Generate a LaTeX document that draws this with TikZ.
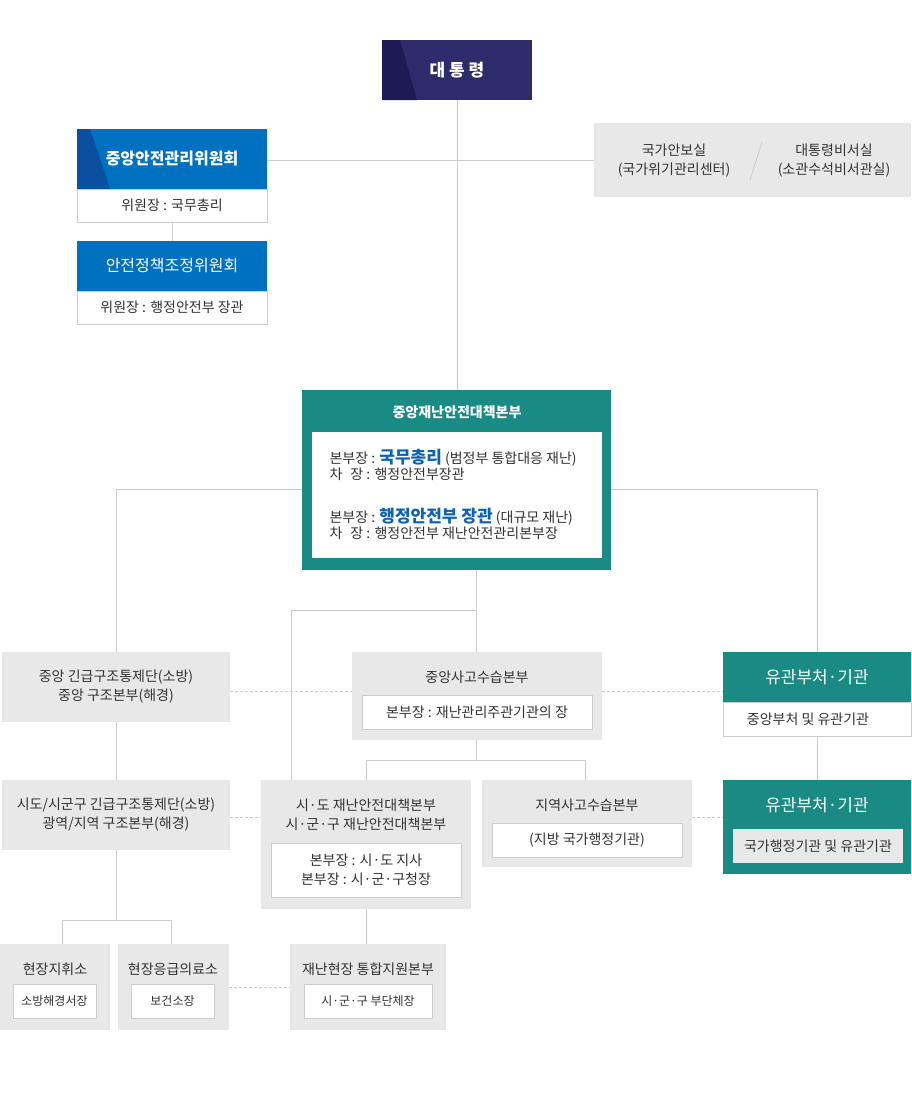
\documentclass[tikz,border=0pt]{standalone}
\usepackage{fontspec}
\setmainfont{Noto Sans CJK KR}
\usetikzlibrary{calc}
\definecolor{navy}{HTML}{2E2B6B}
\definecolor{navyd}{HTML}{1E1A55}
\definecolor{blu}{HTML}{0070C0}
\definecolor{blud}{HTML}{0A4FA0}
\definecolor{teal}{HTML}{1A8A85}
\definecolor{gry}{HTML}{E8E8E8}
\definecolor{lin}{HTML}{CCCCCC}
\definecolor{txt}{HTML}{333333}
\definecolor{hl}{HTML}{0A63B8}
\tikzset{
 box/.style={fill=gry,draw=none},
 wbox/.style={fill=white,draw=lin,line width=0.8pt},
 conn/.style={draw=lin,line width=0.8pt},
 dconn/.style={draw=lin,line width=0.8pt,dashed,dash pattern=on 3pt off 2pt},
 t/.style={font=\fontsize{14}{19}\selectfont,text=txt,align=center},
 tw/.style={font=\fontsize{17}{21}\selectfont,text=white,align=center},
}
\begin{document}
\begin{tikzpicture}[x=1pt,y=-1pt]
\useasboundingbox (0,0) rectangle (911,1100);
% president
\fill[navy] (382,40) rectangle (532,100);
\fill[navyd] (382,40) -- (400,40) -- (417,100) -- (382,100) -- cycle;
\node[tw,font=\bfseries\fontsize{17}{21}\selectfont] (pres) at (457,70) {대 통 령};
% lines top
\draw[conn] (457,100) -- (457,390);
\draw[conn] (267,160) -- (594,160);
% committees
\fill[blu] (77,129) rectangle (267,189);
\fill[blud] (77,129) -- (90,129) -- (110,189) -- (77,189) -- cycle;
\node[tw,font=\bfseries\fontsize{16}{20}\selectfont] (c1) at (172,159) {중앙안전관리위원회};
\draw[wbox] (77,189) rectangle (267,222);
\node[t] (c1s) at (172,205.5) {위원장 : 국무총리};
\draw[conn] (172,222) -- (172,241);
\fill[blu] (77,241) rectangle (267,291);
\node[tw,font=\fontsize{16}{20}\selectfont] (c2) at (172,266) {안전정책조정위원회};
\draw[wbox] (77,291) rectangle (267,324);
\node[t] (c2s) at (172,307.5) {위원장 : 행정안전부 장관};
% right gray
\fill[gry] (594,123) rectangle (911,197);
\node[t] (g1) at (674,161) {국가안보실\\(국가위기관리센터)};
\node[t] (g2) at (834,161) {대통령비서실\\(소관수석비서관실)};
\draw[lin,line width=0.8pt] (762,142) -- (750,180);
% main HQ
\draw[conn] (116,489) -- (302,489);
\draw[conn] (611,489) -- (817,489);
\draw[conn] (116,489) -- (116,652);
\draw[conn] (817,489) -- (817,652);
\draw[conn] (476,570) -- (476,652);
\draw[conn] (476,610) -- (291,610) -- (291,780);
\fill[teal] (302,390) rectangle (611,570);
\node[t,text=white,font=\bfseries\fontsize{14}{18}\selectfont] (hq) at (457,412) {중앙재난안전대책본부};
\fill[white] (312,432) rectangle (602,558);
\node[t,align=left,anchor=north west] (hq1) at (326,446) {본부장 : {\color{hl}\bfseries\fontsize{17}{19}\selectfont 국무총리} (범정부 통합대응 재난)\\[-3pt]차\hspace{8pt}장 : 행정안전부장관};
\node[t,align=left,anchor=north west] (hq2) at (326,505) {본부장 : {\color{hl}\bfseries\fontsize{17}{19}\selectfont 행정안전부 장관} (대규모 재난)\\[-3pt]차\hspace{8pt}장 : 행정안전부 재난안전관리본부장};
% row 2
\draw[dconn] (230,691) -- (352,691);
\draw[dconn] (602,691) -- (723,691);
\fill[gry] (2,652) rectangle (230,722);
\node[t] (r2a) at (116,687) {중앙 긴급구조통제단(소방)\\중앙 구조본부(해경)};
\fill[gry] (352,652) rectangle (602,740);
\node[t] (r2b) at (477,677) {중앙사고수습본부};
\draw[wbox] (362,695) rectangle (592,729);
\node[t] (r2bs) at (477,712) {본부장 : 재난관리주관기관의 장};
\fill[teal] (723,652) rectangle (911,702);
\node[tw] (r2c) at (817,677) {유관부처·기관};
\draw[wbox] (723,702) rectangle (911,736);
\node[t] (r2cs) at (808,719) {중앙부처 및 유관기관};
% connectors row2->row3
\draw[conn] (116,722) -- (116,780);
\draw[conn] (817,736) -- (817,780);
\draw[conn] (476,740) -- (476,760);
\draw[conn] (366,780) -- (366,760) -- (585,760) -- (585,780);
% row 3
\draw[dconn] (230,817) -- (261,817);
\draw[dconn] (692,817) -- (723,817);
\fill[gry] (2,780) rectangle (230,850);
\node[t] (r3a) at (116,815) {시도/시군구 긴급구조통제단(소방)\\광역/지역 구조본부(해경)};
\fill[gry] (261,780) rectangle (471,909);
\node[t] (r3b) at (366,815) {시·도 재난안전대책본부\\시·군·구 재난안전대책본부};
\draw[wbox] (271,843) rectangle (461,897);
\node[t] (r3bs) at (366,870) {본부장 : 시·도 지사\\본부장 : 시·군·구청장};
\fill[gry] (482,780) rectangle (692,867);
\node[t] (r3c) at (587,805) {지역사고수습본부};
\draw[wbox] (492,823) rectangle (682,857);
\node[t] (r3cs) at (587,840) {(지방 국가행정기관)};
\fill[teal] (723,780) rectangle (911,874);
\node[tw] (r3d) at (817,805) {유관부처·기관};
\fill[gry] (733,829) rectangle (903,863);
\node[t] (r3ds) at (818,846) {국가행정기관 및 유관기관};
% row 4
\draw[conn] (116,850) -- (116,920);
\draw[conn] (62,944) -- (62,920) -- (171,920) -- (171,944);
\draw[conn] (366,909) -- (366,944);
\draw[dconn] (229,987) -- (290,987);
\fill[gry] (0,944) rectangle (110,1030);
\node[t] (r4a) at (55,969) {현장지휘소};
\draw[wbox] (13,984) rectangle (96,1018);
\node[t,font=\fontsize{12}{16}\selectfont] (r4as) at (54.5,1001) {소방해경서장};
\fill[gry] (118,944) rectangle (229,1030);
\node[t] (r4b) at (173,969) {현장응급의료소};
\draw[wbox] (131,984) rectangle (214,1018);
\node[t,font=\fontsize{12}{16}\selectfont] (r4bs) at (172.5,1001) {보건소장};
\fill[gry] (290,944) rectangle (446,1030);
\node[t] (r4c) at (368,969) {재난현장 통합지원본부};
\draw[wbox] (304,984) rectangle (432,1018);
\node[t,font=\fontsize{12}{16}\selectfont] (r4cs) at (368,1001) {시·군·구 부단체장};
\end{tikzpicture}
\end{document}
